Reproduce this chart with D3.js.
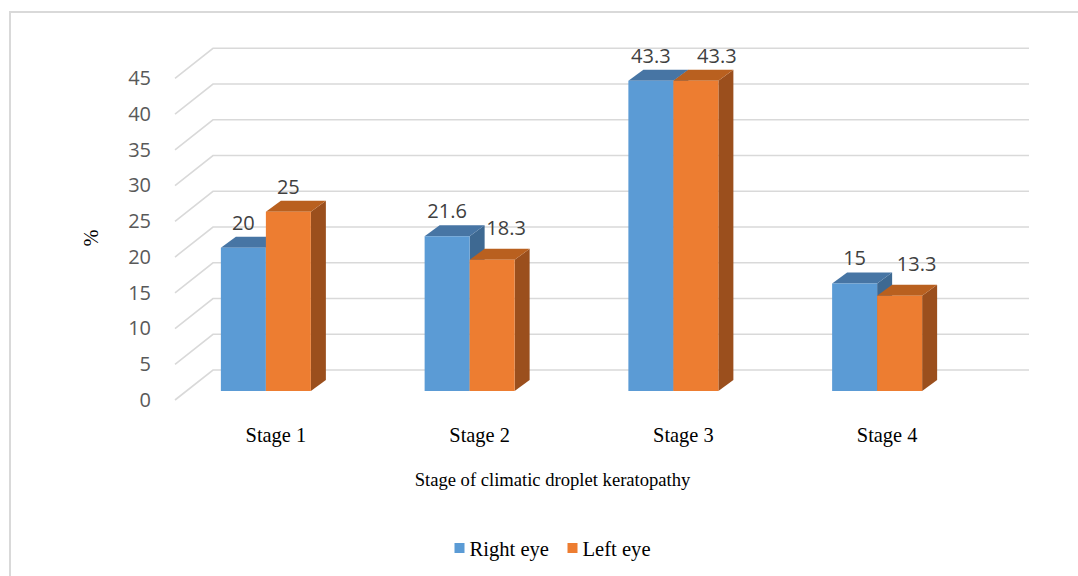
<!DOCTYPE html>
<html>
<head>
<meta charset="utf-8">
<script src="https://cdn.jsdelivr.net/npm/d3@7"></script>
<style>
  html, body { margin: 0; padding: 0; background: #fff; }
  svg { display: block; }
</style>
</head>
<body>
<svg id="chart" width="1078" height="576"></svg>
<script>
// Share of eyes at each stage of climatic droplet keratopathy
const categories = ["Stage 1", "Stage 2", "Stage 3", "Stage 4"];
const seriesNames = ["Right eye", "Left eye"];
const rightEye = [20, 21.6, 43.3, 15];
const leftEye = [25, 18.3, 43.3, 13.3];
const yTicks = [0, 5, 10, 15, 20, 25, 30, 35, 40, 45];

// label nudges (dx, dy) so neighbouring value labels do not collide
const labelNudge = [
  [[0, 0], [0, 0]],
  [[0, 0], [14, -7]],
  [[0, 0], [21, 0]],
  [[0, 0], [17, -7]]
];

const colors = {
  right: { front: "#5B9BD5", top: "#4775A4", side: "#3E6992" },
  left:  { front: "#ED7D31", top: "#B9601F", side: "#9B4F1D" }
};

const svg = d3.select("#chart");

// outer chart frame
svg.append("rect")
  .attr("x", 10).attr("y", 12)
  .attr("width", 1100).attr("height", 600)
  .attr("fill", "#fff")
  .attr("stroke", "#D9D9D9").attr("stroke-width", 2);

// 3D geometry: back wall, floor depth and bar depth offsets
const wallDepth = { dx: 38, dy: -30 };
const barDepth = { dx: 15, dy: -11 };
const wallLeft = 213, wallRight = 1029;

const yBack = d3.scaleLinear().domain([0, 45]).range([370, 48.3]);
const yFront = d3.scaleLinear().domain([0, 45]).range([391, 391 - 45 * 7.167]);
const x = d3.scaleBand().domain(categories).range([164, 979]).padding(0);
const barW = 45;

// gridlines: diagonal on the side wall, then along the back wall
const grid = svg.append("g").attr("class", "grid");
grid.selectAll("path")
  .data(yTicks)
  .join("path")
  .attr("d", v => {
    const yb = yBack(v);
    return `M${wallLeft - wallDepth.dx},${yb - wallDepth.dy}L${wallLeft},${yb}L${wallRight},${yb}`;
  })
  .attr("fill", "none")
  .attr("stroke", "#D9D9D9")
  .attr("stroke-width", 1.6);

// value axis labels at the front edge of the side wall
const yLabelScale = yBack.copy().range(yBack.range().map(r => r - wallDepth.dy));
const yAxis = svg.append("g")
  .attr("transform", `translate(${wallLeft - wallDepth.dx},0)`)
  .call(d3.axisLeft(yLabelScale).tickValues(yTicks).tickSize(0).tickPadding(24));
yAxis.select(".domain").remove();
yAxis.selectAll("text")
  .attr("fill", "#595959")
  .attr("font-family", "'Open Sans', 'Noto Sans', sans-serif")
  .attr("font-size", 20);

// bars
function prism(x0, w, v) {
  const yt = yFront(v), yb = yFront(0);
  const { dx, dy } = barDepth;
  return {
    front: `M${x0},${yt}H${x0 + w}V${yb}H${x0}Z`,
    top: `M${x0},${yt}L${x0 + dx},${yt + dy}H${x0 + w + dx}L${x0 + w},${yt}Z`,
    side: `M${x0 + w},${yt}L${x0 + w + dx},${yt + dy}V${yb + dy}L${x0 + w},${yb}Z`
  };
}

const rows = categories.map((c, i) => ({
  cat: c, i,
  vals: [
    { key: "right", v: rightEye[i], s: 0 },
    { key: "left", v: leftEye[i], s: 1 }
  ]
}));

const bars = svg.append("g").attr("class", "bars");
rows.forEach(row => {
  const cx = x(row.cat) + x.bandwidth() / 2;
  row.vals.forEach(d => {
    const x0 = cx - barW + d.s * barW;
    const p = prism(x0, barW, d.v);
    const col = colors[d.key];
    bars.append("path").attr("d", p.side).attr("fill", col.side);
    bars.append("path").attr("d", p.top).attr("fill", col.top);
    bars.append("path").attr("d", p.front).attr("fill", col.front);
  });
});

// value labels
const labels = svg.append("g").attr("class", "values");
rows.forEach(row => {
  const cx = x(row.cat) + x.bandwidth() / 2;
  row.vals.forEach(d => {
    const x0 = cx - barW + d.s * barW;
    const nudge = labelNudge[row.i][d.s];
    labels.append("text")
      .attr("x", x0 + barW / 2 + nudge[0])
      .attr("y", yFront(d.v) + barDepth.dy - 7 + nudge[1])
      .attr("text-anchor", "middle")
      .attr("fill", "#404040")
      .attr("font-family", "'Open Sans', 'Noto Sans', sans-serif")
      .attr("font-size", 20)
      .text(d.v);
  });
});

// category labels
const serif = "'Liberation Serif', 'Times New Roman', serif";
svg.append("g").selectAll("text")
  .data(categories)
  .join("text")
  .attr("x", d => x(d) + x.bandwidth() / 2 + 10)
  .attr("y", 441.5)
  .attr("text-anchor", "middle")
  .attr("fill", "#000")
  .attr("font-family", serif)
  .attr("font-size", 20.4)
  .text(d => d);

// axis titles
svg.append("text")
  .attr("x", 552.5).attr("y", 486)
  .attr("text-anchor", "middle")
  .attr("fill", "#000")
  .attr("font-family", serif)
  .attr("font-size", 18.6)
  .text("Stage of climatic droplet keratopathy");

svg.append("text")
  .attr("transform", "translate(98,238) rotate(-90)")
  .attr("text-anchor", "middle")
  .attr("fill", "#000")
  .attr("font-family", serif)
  .attr("font-size", 20.4)
  .text("%");

// legend
const legend = svg.append("g").attr("class", "legend");
const legendItems = [
  { name: seriesNames[0], color: colors.right.front, x: 454.5 },
  { name: seriesNames[1], color: colors.left.front, x: 567.5 }
];
legendItems.forEach(it => {
  legend.append("rect")
    .attr("x", it.x).attr("y", 543)
    .attr("width", 10).attr("height", 10)
    .attr("fill", it.color);
  legend.append("text")
    .attr("x", it.x + 15).attr("y", 556)
    .attr("fill", "#000")
    .attr("font-family", serif)
    .attr("font-size", 20.6)
    .text(it.name);
});
</script>
</body>
</html>
